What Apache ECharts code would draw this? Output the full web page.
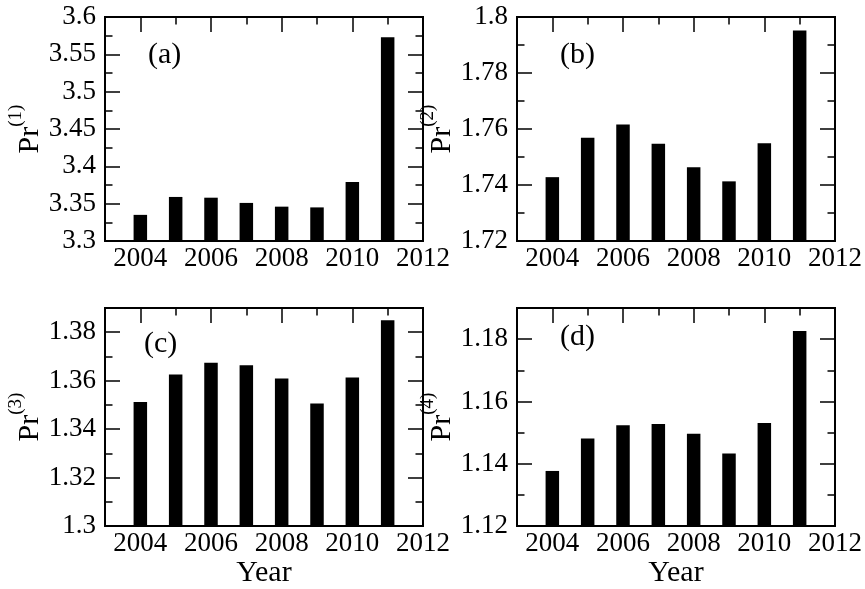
<!DOCTYPE html>
<html>
<head>
<meta charset="utf-8">
<script src="https://cdn.jsdelivr.net/npm/echarts@6/dist/echarts.min.js"></script>
<style>
html,body{margin:0;padding:0;background:#fff;}
#chart{width:865px;height:589px;}
</style>
</head>
<body>
<div id="chart"></div>
<script>
// ---- data ----
const xTicks = ['2003','2004','2005','2006','2007','2008','2009','2010','2011','2012'];
const years = [2004, 2005, 2006, 2007, 2008, 2009, 2010, 2011];
const valuesA = [3.335, 3.359, 3.358, 3.351, 3.346, 3.345, 3.379, 3.573];
const valuesB = [1.7428, 1.7569, 1.7616, 1.7547, 1.7463, 1.7413, 1.7549, 1.7952];
const valuesC = [1.3512, 1.3626, 1.3674, 1.3664, 1.3609, 1.3506, 1.3613, 1.3849];
const valuesD = [1.1377, 1.1481, 1.1524, 1.1528, 1.1496, 1.1433, 1.1531, 1.1826];
const panelLabels = ['(a)', '(b)', '(c)', '(d)'];
const yNameSups = ['(1)', '(2)', '(3)', '(4)'];
const xName = 'Year';

// ---- layout table ----
const FONT = '"Liberation Serif", "Times New Roman", serif';
const panels = [
  {values: valuesA, yMin: 3.3,  yMax: 3.6,  major: 0.05, minor: 0.025, left: 105, top: 17,  showX: false, lx: 43, ly: 23},
  {values: valuesB, yMin: 1.72, yMax: 1.8,  major: 0.02, minor: 0.01,  left: 517, top: 17,  showX: false, lx: 43, ly: 23},
  {values: valuesC, yMin: 1.3,  yMax: 1.39, major: 0.02, minor: 0.01,  left: 105, top: 308, showX: true,  lx: 39, ly: 21},
  {values: valuesD, yMin: 1.12, yMax: 1.19, major: 0.02, minor: 0.01,  left: 517, top: 308, showX: true,  lx: 43, ly: 14}
];
const GW = 318, GH = 224;
const lineStyle = {color: '#000', width: 2};
const tickStyle = {color: '#000', width: 1.5};

const grids = [], xAxes = [], yAxes = [], series = [], graphics = [];
const isMajorYear = (idx) => idx % 2 === 1;

panels.forEach((p, i) => {
  grids.push({left: p.left, top: p.top, width: GW, height: GH});
  const xBase = {
    type: 'category', gridIndex: i, data: xTicks, boundaryGap: false,
    axisLine: {show: true, onZero: false, lineStyle: lineStyle},
    splitLine: {show: false}
  };
  const xi = xAxes.length;
  xAxes.push(Object.assign({}, xBase, {
    position: 'bottom',
    name: p.showX ? xName : '',
    nameLocation: 'middle', nameGap: 30,
    nameTextStyle: {fontFamily: FONT, fontSize: 30, color: '#000'},
    axisTick: {show: true, inside: true, length: 15, interval: isMajorYear, lineStyle: tickStyle},
    axisLabel: {show: true, interval: isMajorYear, fontFamily: FONT, fontSize: 27, color: '#000', margin: 4}
  }));
  xAxes.push(Object.assign({}, xBase, {
    position: 'top',
    axisTick: {show: true, inside: true, length: 15, interval: isMajorYear, lineStyle: tickStyle},
    axisLabel: {show: false}
  }));
  xAxes.push(Object.assign({}, xBase, {
    position: 'top',
    axisTick: {show: true, inside: true, length: 7.5, interval: 0, lineStyle: tickStyle},
    axisLabel: {show: false}
  }));

  const aligned = Math.abs(p.yMax / p.major - Math.round(p.yMax / p.major)) < 1e-6;
  const yBase = {
    type: 'value', gridIndex: i, min: p.yMin, max: p.yMax,
    axisLine: {show: true, onZero: false, lineStyle: lineStyle},
    splitLine: {show: false}
  };
  const yi = yAxes.length;
  yAxes.push(Object.assign({}, yBase, {
    position: 'left', interval: p.major,
    axisTick: {show: true, inside: true, length: 15, lineStyle: tickStyle},
    axisLabel: {show: true, fontFamily: FONT, fontSize: 27, color: '#000', margin: 9, showMaxLabel: aligned},
    name: '{p|Pr}{s|' + yNameSups[i] + '}',
    nameLocation: 'middle', nameRotate: 90, nameGap: 52,
    nameTextStyle: {
      fontFamily: FONT, color: '#000',
      rich: {
        p: {fontFamily: FONT, fontSize: 30, color: '#000', padding: [8, 0, 0, 0]},
        s: {fontFamily: FONT, fontSize: 19, color: '#000', verticalAlign: 'top'}
      }
    }
  }));
  yAxes.push(Object.assign({}, yBase, {
    position: 'left', interval: p.minor,
    axisTick: {show: true, inside: true, length: 7.5, lineStyle: tickStyle},
    axisLabel: {show: false}
  }));
  yAxes.push(Object.assign({}, yBase, {
    position: 'right', interval: p.major,
    axisTick: {show: true, inside: true, length: 15, lineStyle: tickStyle},
    axisLabel: {show: false}
  }));
  yAxes.push(Object.assign({}, yBase, {
    position: 'right', interval: p.minor,
    axisTick: {show: true, inside: true, length: 7.5, lineStyle: tickStyle},
    axisLabel: {show: false}
  }));

  series.push({
    type: 'bar', xAxisIndex: xi, yAxisIndex: yi,
    data: xTicks.map(t => {
      const k = years.indexOf(+t);
      return k >= 0 ? p.values[k] : null;
    }),
    barWidth: 13.5,
    itemStyle: {color: '#000'},
    silent: true
  });

  graphics.push({
    type: 'text', left: p.left + p.lx, top: p.top + p.ly,
    style: {text: panelLabels[i], font: '30px "Liberation Serif"', fill: '#000'}
  });
});

const chart = echarts.init(document.getElementById('chart'), null, {renderer: 'canvas'});
chart.setOption({
  animation: false,
  backgroundColor: '#fff',
  grid: grids,
  xAxis: xAxes,
  yAxis: yAxes,
  series: series,
  graphic: graphics
});
</script>
</body>
</html>
